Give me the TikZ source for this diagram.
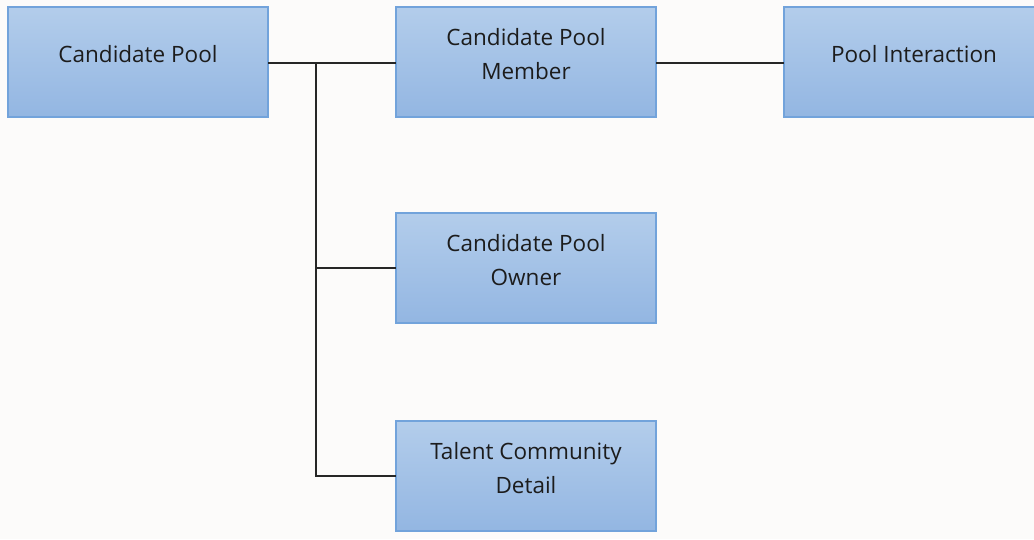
\documentclass[tikz,border=0pt]{standalone}
\usepackage{fontspec}
\setmainfont{Open Sans}
\definecolor{bg}{HTML}{FCFBFA}
\definecolor{boxtop}{HTML}{B3CDEB}
\definecolor{boxbot}{HTML}{93B6E2}
\definecolor{boxline}{HTML}{72A3DB}
\definecolor{txt}{HTML}{1C1C1C}
\begin{document}
\begin{tikzpicture}[x=1pt,y=-1pt,
  entity/.style={draw=boxline,line width=1.6pt,top color=boxtop,bottom color=boxbot,
    minimum width=260pt,minimum height=110pt,inner sep=0pt,outer sep=0pt},
  lbl/.style={text=txt,align=center,font=\fontsize{22.5}{34}\selectfont,inner sep=0pt},
  conn/.style={draw=black!85,line width=1.5pt}]
\fill[bg] (0,0) rectangle (1034,539);
\useasboundingbox (0,0) rectangle (1034,539);
\begin{scope}
\clip (0,0) rectangle (1034,539);
\node[entity] (cp) at (138,62) {};
\node[entity] (cpm) at (526,62) {};
\node[entity] (pi) at (914,62) {};
\node[entity] (cpo) at (526,268) {};
\node[entity] (tcd) at (526,476) {};
\end{scope}
\node[lbl] (cpt) at ([yshift=8pt]cp.center) {Candidate Pool};
\node[lbl] (cpmt) at ([yshift=8pt]cpm.center) {Candidate Pool\\Member};
\node[lbl] (pit) at ([yshift=8pt]pi.center) {Pool Interaction};
\node[lbl] (cpot) at ([yshift=8pt]cpo.center) {Candidate Pool\\Owner};
\node[lbl] (tcdt) at ([yshift=8pt]tcd.center) {Talent Community\\Detail};
\coordinate (jn) at (316,63);
\draw[conn] (cp.east |- jn) -- (cpm.west |- jn);
\draw[conn] (cpm.east |- jn) -- (pi.west |- jn);
\draw[conn] (jn) |- (cpo.west);
\draw[conn] (jn) |- (tcd.west);
\end{tikzpicture}
\end{document}
